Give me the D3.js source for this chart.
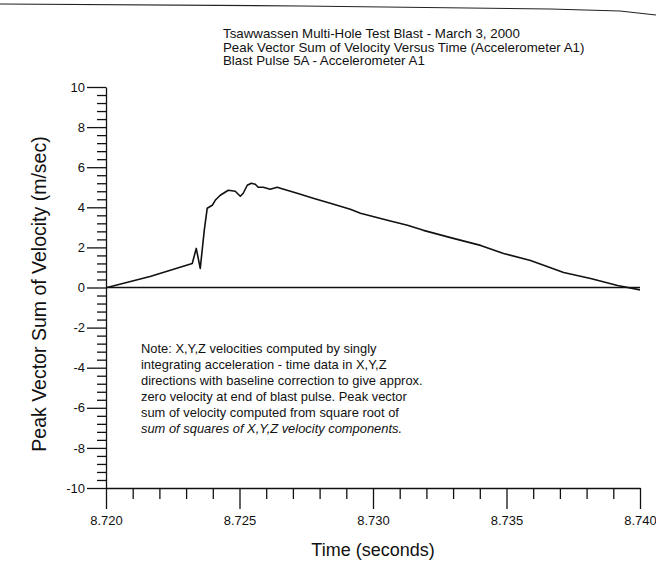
<!DOCTYPE html>
<html>
<head>
<meta charset="utf-8">
<script src="https://cdn.jsdelivr.net/npm/d3@7"></script>
<style>
  body { margin: 0; background: #fff; }
  svg text { font-family: "Liberation Sans", Arial, sans-serif; fill: #111; }
  .axis path, .axis line { stroke: #111; stroke-width: 1.3; }
  .axis text { font-size: 13px; }
</style>
</head>
<body>
<div id="chart"></div>
<script>
      // time (s) and peak vector sum of velocity (m/sec)
      var times = [8.72004, 8.72165, 8.72323, 8.72338, 8.72353, 8.72368, 8.72379, 8.72398,
                   8.72409, 8.72428, 8.72458, 8.72484, 8.72503, 8.72514, 8.72529, 8.72544,
                   8.72559, 8.72570, 8.72589, 8.72615, 8.72641, 8.72653, 8.72716, 8.72776,
                   8.72840, 8.72915, 8.72953, 8.73054, 8.73129, 8.73189, 8.73301, 8.73403,
                   8.73489, 8.73590, 8.73714, 8.73815, 8.73916, 8.74000];
      var velocity = [0.0, 0.55, 1.2, 1.95, 0.95, 2.85, 3.95, 4.1,
                      4.35, 4.6, 4.85, 4.8, 4.55, 4.7, 5.1, 5.2,
                      5.15, 5.0, 5.0, 4.9, 5.0, 4.95, 4.7, 4.45,
                      4.2, 3.9, 3.7, 3.35, 3.1, 2.85, 2.45, 2.1,
                      1.7, 1.35, 0.75, 0.45, 0.1, -0.12];
      var xTicks = [8.720, 8.725, 8.730, 8.735, 8.740];
      var yTicks = [-10, -8, -6, -4, -2, 0, 2, 4, 6, 8, 10];
      var titleLines = ["Tsawwassen Multi-Hole Test Blast - March 3, 2000",
                        "Peak Vector Sum of Velocity Versus Time (Accelerometer A1)",
                        "Blast Pulse 5A - Accelerometer A1"];
      var noteLines = ["Note: X,Y,Z velocities computed by singly",
                       "integrating acceleration - time data in X,Y,Z",
                       "directions with baseline correction to give approx.",
                       "zero velocity at end of blast pulse.  Peak vector",
                       "sum of velocity computed from square root of",
                       "sum of squares of X,Y,Z velocity components."];

      var width = 656;
      var height = 565;
      var chart = d3.select('#chart').append("svg")
                    .attr('width', width)
                    .attr('height', height);

      var x = d3.scaleLinear().domain([8.720, 8.740]).range([106, 640]);
      var y = d3.scaleLinear().domain([-10, 10]).range([488, 87]);

      // scan edge at the top of the page
      chart.append('polyline')
           .attr('points', '0,4 300,6 550,9 620,11 656,15')
           .attr('fill', 'none').attr('stroke', '#222').attr('stroke-width', 1.2);

      // title
      chart.append('g').selectAll('text').data(titleLines).enter().append('text')
           .attr('x', 223)
           .attr('y', function(d, i){ return 38 + i * 13.5; })
           .style('font-size', '13.3px')
           .text(function(d){ return d; });

      // minor ticks
      var minorY = d3.range(-10, 10.01, 0.4).filter(function(v){ return Math.abs(v / 2 - Math.round(v / 2)) > 0.01; });
      var minorX = d3.range(8.720, 8.7401, 0.001).filter(function(v){ return Math.abs(v * 200 - Math.round(v * 200)) > 0.01; });

      chart.append('g').attr('class', 'axis')
           .attr('transform', 'translate(106,0)')
           .call(d3.axisLeft(y).tickValues(minorY).tickSize(9).tickFormat(''))
           .select('.domain').remove();
      chart.append('g').attr('class', 'axis')
           .attr('transform', 'translate(0,488)')
           .call(d3.axisBottom(x).tickValues(minorX).tickSize(11).tickFormat(''))
           .select('.domain').remove();

      // major ticks
      chart.append('g').attr('class', 'axis')
           .attr('transform', 'translate(106,0)')
           .call(d3.axisLeft(y).tickValues(yTicks).tickSize(19).tickSizeOuter(0).tickPadding(2)
                 .tickFormat(function(d){ return String(d); }));
      chart.append('g').attr('class', 'axis')
           .attr('transform', 'translate(0,488)')
           .call(d3.axisBottom(x).tickValues(xTicks).tickSize(21).tickSizeOuter(0).tickPadding(7)
                 .tickFormat(d3.format('.3f')));

      // zero baseline
      var line = d3.line()
                   .x(function(d){ return x(d[0]); })
                   .y(function(d){ return y(d[1]); });
      chart.append('path')
           .datum([[8.720, 0], [8.740, 0]])
           .attr('d', line)
           .attr('fill', 'none').attr('stroke', '#111').attr('stroke-width', 1.4);

      // velocity curve
      chart.append('path')
           .datum(d3.zip(times, velocity))
           .attr('d', line)
           .attr('fill', 'none').attr('stroke', '#111').attr('stroke-width', 1.6)
           .attr('stroke-linejoin', 'round');

      // axis titles
      chart.append('text')
           .attr('x', 373).attr('y', 556)
           .attr('text-anchor', 'middle')
           .style('font-size', '18px')
           .text('Time (seconds)');
      chart.append('text')
           .attr('transform', 'translate(46,294) rotate(-90)')
           .attr('text-anchor', 'middle')
           .style('font-size', '19.5px')
           .text('Peak Vector Sum of Velocity (m/sec)');

      // note
      chart.append('g').selectAll('text').data(noteLines).enter().append('text')
           .attr('x', 141)
           .attr('y', function(d, i){ return 353 + i * 16; })
           .style('font-size', '12.9px')
           .style('font-style', function(d, i){ return i === noteLines.length - 1 ? 'italic' : 'normal'; })
           .text(function(d){ return d; });
</script>
</body>
</html>
